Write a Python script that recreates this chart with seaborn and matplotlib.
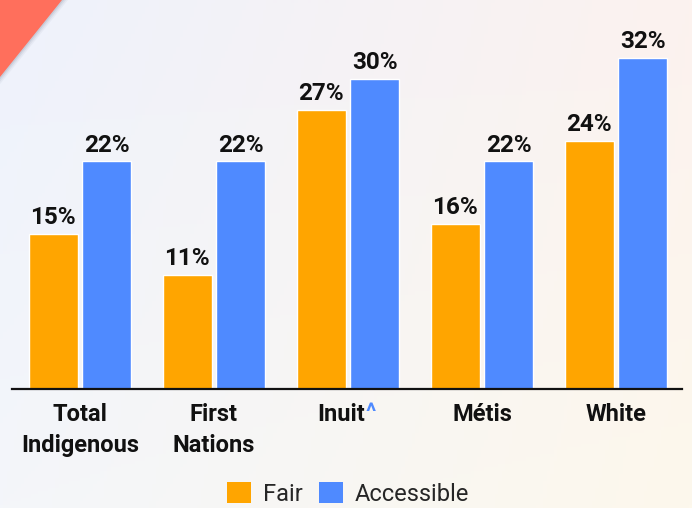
import numpy as np
import pandas as pd
import matplotlib.pyplot as plt
import seaborn as sns
from matplotlib.colors import to_rgb
from matplotlib.patches import Polygon, Patch
from matplotlib.transforms import blended_transform_factory

sns.set_style("white")
plt.rcParams['font.family'] = ['Roboto', 'DejaVu Sans']

# Data
groups = ['Total\nIndigenous', 'First\nNations', 'Inuit', 'Métis', 'White']
measures = ['Fair', 'Accessible']
fair = [15, 11, 27, 16, 24]
accessible = [22, 22, 30, 22, 32]
colors = ['#FFA500', '#4F8AFF']

df = pd.DataFrame({
    'group': groups * 2,
    'measure': [measures[0]] * len(groups) + [measures[1]] * len(groups),
    'value': fair + accessible,
})

W, H = 692, 508
fig = plt.figure(figsize=(W / 100, H / 100), dpi=100)

# Soft gradient background
bg = fig.add_axes([0, 0, 1, 1], zorder=-5)
tl, tr = np.array(to_rgb('#EEF2FC')), np.array(to_rgb('#FCF2EF'))
bl, br = np.array(to_rgb('#F4F6FA')), np.array(to_rgb('#FDF8EC'))
u = np.linspace(0, 1, 200)[None, :, None]
v = np.linspace(0, 1, 150)[:, None, None]
img = (1 - v) * ((1 - u) * tl + u * tr) + v * ((1 - u) * bl + u * br)
bg.imshow(img, extent=[0, W, H, 0], aspect='auto')
# red corner triangle with soft shadow
for k, a in [(6, 0.05), (4, 0.08), (2, 0.12)]:
    bg.add_patch(Polygon([(0, 0), (62 + k, 0), (0, 77 + k * 1.2)], closed=True,
                         facecolor='#4a5570', alpha=a, edgecolor='none'))
bg.add_patch(Polygon([(0, 0), (62, 0), (0, 77)], closed=True,
                     facecolor='#FF6F5C', edgecolor='none'))
bg.set_xlim(0, W)
bg.set_ylim(H, 0)
bg.axis('off')

ax = fig.add_axes([12 / W, 119 / H, 670 / W, 362 / H])
ax.patch.set_alpha(0)
sns.barplot(data=df, x='group', y='value', hue='measure', palette=colors,
            width=0.8, gap=0.09, saturation=1, ax=ax, legend=False)

ax.set_xlim(-0.507, 4.493)
ax.set_ylim(0, 35)
for c in ax.containers:
    ax.bar_label(c, labels=[f'{v:.0f}%' for v in c.datavalues], padding=3.5,
                 fontsize=17.5, fontweight='bold', color='#111111')

for s in ['top', 'right', 'left']:
    ax.spines[s].set_visible(False)
ax.spines['bottom'].set_linewidth(1.6)
ax.spines['bottom'].set_color('#111111')
ax.set_yticks([])
ax.set_xlabel('')
ax.set_ylabel('')
ax.set_xticks(range(len(groups)))
ax.set_xticklabels([g if g != 'Inuit' else '' for g in groups],
                   fontsize=17, fontweight='bold', color='#111111', linespacing=1.45)
ax.tick_params(axis='x', which='major', length=0, pad=10)
ax.set_xticks([i + 0.5 for i in range(len(groups) - 1)], minor=True)
ax.tick_params(axis='x', which='minor', direction='in', length=7, width=1.6,
               color='#111111')

# Inuit label with blue caret
tr_ = blended_transform_factory(ax.transData, ax.transAxes)
ax.annotate('Inuit', xy=(2, 0), xycoords=tr_, xytext=(12, -10),
            textcoords='offset points', ha='right', va='top', fontsize=17,
            fontweight='bold', color='#111111')
ax.annotate('^', xy=(2, 0), xycoords=tr_, xytext=(12.5, -9.5),
            textcoords='offset points', ha='left', va='top', fontsize=17,
            fontweight='bold', color='#4F8AFF')

handles = [Patch(facecolor=c, edgecolor='none') for c in colors]
fig.legend(handles, measures, loc='center', bbox_to_anchor=(348 / W, 1 - 494 / H),
           ncol=2, frameon=False, fontsize=17, handlelength=1.0, handleheight=1.0,
           handletextpad=0.5, columnspacing=0.7)

fig.savefig('out.png', dpi=100)
